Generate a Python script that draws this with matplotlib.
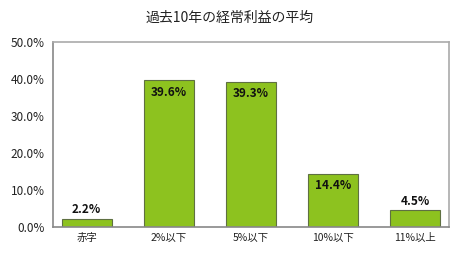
import matplotlib
matplotlib.use("Agg")
import matplotlib.pyplot as plt
from matplotlib.ticker import FuncFormatter

plt.rcParams['font.family'] = ['Noto Sans CJK JP', 'DejaVu Sans']

categories = ["赤字", "2%以下", "5%以下", "10%以下", "11%以上"]
values = [2.2, 39.6, 39.3, 14.4, 4.5]
title = "過去10年の経常利益の平均"

fig = plt.figure(figsize=(4.6, 2.54), dpi=100)
ax = fig.add_axes([0.115, 0.106, 0.861, 0.729])
x = range(len(categories))
ax.bar(x, values, width=0.61, color="#8dc21f", edgecolor="#5f7042", linewidth=0.8)
ax.set_xlim(-0.41, len(categories) - 0.59)
ax.set_ylim(0, 50)
ax.set_yticks([0, 10, 20, 30, 40, 50])
ax.yaxis.set_major_formatter(FuncFormatter(lambda v, p: f"{v:.1f}%"))
ax.set_xticks(list(x))
ax.set_xticklabels(categories)
ax.tick_params(axis='both', length=0, labelsize=8.5, colors="#222222")
ax.tick_params(axis='x', labelsize=7.5, pad=4)
ax.tick_params(axis='y', pad=6)
for s in ax.spines.values():
    s.set_color("#aaaaaa")
    s.set_linewidth(1.2)
ax.spines['left'].set_color("#888888")
ax.spines['bottom'].set_color("#888888")
for i, v in enumerate(values):
    if v > 10:
        ax.text(i, v - 1.5, f"{v}%", ha='center', va='top', fontsize=8.5, fontweight='bold', color="#111111")
    else:
        ax.text(i, v + 0.7, f"{v}%", ha='center', va='bottom', fontsize=8.5, fontweight='bold', color="#111111")
fig.text(0.5, 0.93, title, ha='center', va='center', fontsize=10, color="#222222")
fig.savefig("out.png", dpi=100)
